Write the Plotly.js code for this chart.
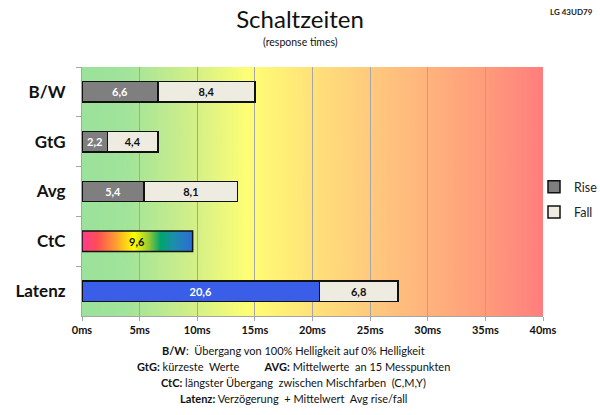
<!DOCTYPE html>
<html>
<head>
<meta charset="utf-8">
<script src="https://cdn.plot.ly/plotly-3.0.1.min.js"></script>
<style>html,body{margin:0;padding:0;background:#fff;}#chart{width:600px;height:415px;}</style>
</head>
<body>
<div id="chart"></div>
<script>
// ---- data ----
const categories = ['B/W', 'GtG', 'Avg', 'CtC', 'Latenz'];
const riseCategories = ['B/W', 'GtG', 'Avg'];
const riseValues = [6.6, 2.2, 5.4];
const fallCategories = ['B/W', 'GtG', 'Avg', 'Latenz'];
const fallValues = [8.4, 4.4, 8.1, 6.8];
const ctcCategory = 'CtC';
const ctcValue = 9.6;
const latencyCategory = 'Latenz';
const latencyValue = 20.6;
const xTickValues = [0, 5, 10, 15, 20, 25, 30, 35, 40];
const xTickLabels = ['0ms', '5ms', '10ms', '15ms', '20ms', '25ms', '30ms', '35ms', '40ms'];
const footerLines = [
  '<b>B/W</b>:\u00A0 Übergang von 100% Helligkeit auf 0% Helligkeit',
  '<b>GtG:</b> kürzeste\u00A0 Werte\u00A0\u00A0\u00A0\u00A0\u00A0\u00A0\u00A0\u00A0 <b>AVG:</b> Mittelwerte\u00A0 an 15 Messpunkten',
  '<b>CtC:</b> längster Übergang\u00A0 zwischen Mischfarben\u00A0 (C,M,Y)',
  '<b>Latenz:</b> Verzögerung\u00A0 + Mittelwert\u00A0 Avg rise/fall'
];

// ---- style ----
const FONT = 'Lato, "Open Sans", "DejaVu Sans", sans-serif';
const M = {l: 82, r: 57, t: 67, b: 99, autoexpand: false};
const W = 600, H = 415;
const plotH = H - M.t - M.b;
const plotW = W - M.l - M.r;
const bargap = 0.59;
const half = (1 - bargap) / 2;
const outline = {color: '#111', width: 1.5};

function gradientURL(stops, w, h) {
  const c = document.createElement('canvas');
  c.width = w; c.height = h;
  const g = c.getContext('2d');
  const lg = g.createLinearGradient(0, 0, w, 0);
  stops.forEach(s => lg.addColorStop(s[0], s[1]));
  g.fillStyle = lg;
  g.fillRect(0, 0, w, h);
  return c.toDataURL('image/png');
}
const bgURL = gradientURL([
  [0, '#9be29b'], [0.1, '#a2e49a'], [0.25, '#d6f087'], [0.36, '#ffff74'],
  [0.5, '#ffe27a'], [0.625, '#ffca7e'], [0.75, '#ffb37d'], [0.875, '#ff9c7b'], [1, '#ff7d7d']
], 460, 20);
const rainbowURL = gradientURL([
  [0, '#ff3a8f'], [0.14, '#ff4f55'], [0.3, '#ff9a33'], [0.47, '#ffff00'],
  [0.6, '#9acb34'], [0.71, '#00a46c'], [0.83, '#1d8fae'], [1, '#2c6cd6']
], 200, 10);

function paperY(px) { return (H - M.b - px) / plotH; }
function paperX(px) { return (px - M.l) / plotW; }

const labelFont = {family: FONT, size: 11, color: '#fff', weight: 'bold'};
const labelFontDark = {family: FONT, size: 11, color: '#111', weight: 'bold'};

const traces = [
  {
    type: 'bar', orientation: 'h', name: 'Rise', legendgroup: 'rise',
    y: riseCategories, x: riseValues,
    marker: {color: '#7f7f7f', line: outline},
    texttemplate: '%{x:.1f}', textposition: 'inside', insidetextanchor: 'middle',
    textfont: labelFont, hoverinfo: 'skip'
  },
  {
    type: 'bar', orientation: 'h', name: 'Latenz', showlegend: false,
    y: [latencyCategory], x: [latencyValue],
    marker: {color: '#3a5ee8', line: outline},
    texttemplate: '%{x:.1f}', textposition: 'inside', insidetextanchor: 'middle',
    textfont: labelFont, hoverinfo: 'skip'
  },
  {
    type: 'bar', orientation: 'h', name: 'CtC', showlegend: false,
    y: [ctcCategory], x: [ctcValue],
    marker: {color: 'rgba(0,0,0,0)', line: {width: 0}},
    hoverinfo: 'skip'
  },
  {
    type: 'bar', orientation: 'h', name: 'Fall', legendgroup: 'fall',
    y: fallCategories, x: fallValues,
    marker: {color: '#eeece1', line: outline},
    texttemplate: '%{x:.1f}', textposition: 'inside', insidetextanchor: 'middle',
    textfont: labelFontDark, hoverinfo: 'skip'
  }
];

const ctcIndex = categories.indexOf(ctcCategory);

const annotations = [
  {xref: 'paper', yref: 'paper', x: paperX(W - 5), y: paperY(12), xanchor: 'right', yanchor: 'middle',
   text: '<b>LG 43UD79</b>', showarrow: false, font: {family: FONT, size: 8, color: '#222'}},
  {xref: 'paper', yref: 'paper', x: paperX(300), y: paperY(42), xanchor: 'center', yanchor: 'middle',
   text: '(response times)', showarrow: false, font: {family: FONT, size: 10.5, color: '#111'}},
  {xref: 'x', yref: 'y', x: ctcValue / 2, y: ctcIndex, text: '<b>' + ctcValue.toFixed(1).replace('.', ',') + '</b>',
   showarrow: false, font: labelFontDark}
];
const footerY = [350, 366, 382, 398];
footerLines.forEach((t, i) => {
  annotations.push({xref: 'paper', yref: 'paper', x: paperX(293), y: paperY(footerY[i]),
    xanchor: 'center', yanchor: 'middle', text: t, showarrow: false,
    font: {family: FONT, size: 11, color: '#111'}});
});

const layout = {
  width: W, height: H,
  margin: M,
  paper_bgcolor: '#fff',
  plot_bgcolor: 'rgba(0,0,0,0)',
  separators: ',.',
  barmode: 'stack',
  bargap: bargap,
  font: {family: FONT, color: '#111'},
  title: {text: 'Schaltzeiten', x: 0.5, xref: 'container', y: 1 - 20 / H, yref: 'container', yanchor: 'middle',
          font: {family: FONT, size: 24, color: '#111'}},
  xaxis: {
    range: [0, 40], tickmode: 'array', tickvals: xTickValues, ticktext: xTickLabels, fixedrange: true,
    showgrid: true, gridcolor: '#a6a6a6', gridwidth: 1,
    showline: true, linecolor: '#a6a6a6', linewidth: 1,
    ticks: 'outside', ticklen: 4, tickcolor: '#a6a6a6',
    tickfont: {family: FONT, size: 11, color: '#111', weight: 'bold'},
    zeroline: false
  },
  yaxis: {
    type: 'category', categoryorder: 'array', categoryarray: categories,
    autorange: 'reversed', fixedrange: true,
    showgrid: false, showline: true, linecolor: '#a6a6a6', linewidth: 1,
    ticks: 'outside', tickson: 'boundaries', ticklen: 5, tickcolor: '#a6a6a6',
    ticklabelstandoff: 12,
    tickfont: {family: FONT, size: 17, color: '#111', weight: 'bold'}
  },
  legend: {
    x: paperX(534), xanchor: 'left', y: paperY(172), yanchor: 'top',
    bgcolor: 'rgba(0,0,0,0)', traceorder: 'grouped', tracegroupgap: 6,
    font: {family: FONT, size: 12.5, color: '#222'}, itemwidth: 30
  },
  images: [
    {source: bgURL, xref: 'paper', yref: 'paper', x: 0, y: 1, sizex: 1, sizey: 1,
     xanchor: 'left', yanchor: 'top', sizing: 'stretch', layer: 'below'},
    {source: rainbowURL, xref: 'x', yref: 'y', x: 0, y: ctcIndex - half, sizex: ctcValue, sizey: 2 * half,
     xanchor: 'left', yanchor: 'top', sizing: 'stretch', layer: 'above'}
  ],
  shapes: [
    {type: 'rect', xref: 'x', yref: 'y', x0: 0, x1: ctcValue, y0: ctcIndex - half, y1: ctcIndex + half,
     line: outline, fillcolor: 'rgba(0,0,0,0)', layer: 'above'}
  ],
  annotations: annotations
};

Plotly.newPlot('chart', traces, layout, {displayModeBar: false, staticPlot: true});
</script>
</body>
</html>
